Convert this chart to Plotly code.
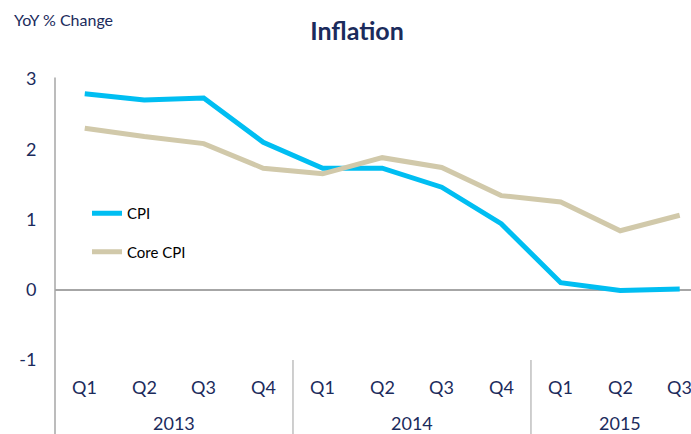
import plotly.graph_objects as go

quarters = ["Q1", "Q2", "Q3", "Q4", "Q1", "Q2", "Q3", "Q4", "Q1", "Q2", "Q3"]
years = ["2013", "2014", "2015"]
year_centers = [1.5, 5.5, 9.0]
y_ticks = [-1, 0, 1, 2, 3]
y_tick_labels = ["-1", "0", "1", "2", "3"]
cpi = [2.79, 2.70, 2.73, 2.10, 1.73, 1.73, 1.46, 0.94, 0.10, -0.01, 0.01]
core_cpi = [2.30, 2.18, 2.08, 1.73, 1.65, 1.88, 1.74, 1.34, 1.25, 0.84, 1.06]

NAVY = "#1B2B5C"
FONT = "Lato, 'Open Sans', sans-serif"
x = list(range(len(quarters)))

W, H = 691, 434
L, T, B, R = 55, 79, 74, 0
plot_h = H - T - B
plot_w = W - L - R

fig = go.Figure()
fig.add_trace(go.Scatter(x=x, y=cpi, mode="lines", name="CPI", legendgroup="a",
                         line=dict(color="#00BEF2", width=5)))
fig.add_trace(go.Scatter(x=x, y=core_cpi, mode="lines", name="Core CPI", legendgroup="b",
                         line=dict(color="#D1C9AA", width=5)))

bottom_ext = -B / plot_h

shapes = [
    dict(type="line", xref="paper", yref="paper", x0=0, x1=0, y0=bottom_ext, y1=1.005,
         line=dict(color="#A6A6A6", width=1.5)),
]
for sep in [3.5, 7.5]:
    shapes.append(dict(type="line", xref="x", yref="paper", x0=sep, x1=sep,
                       y0=bottom_ext, y1=0, line=dict(color="#BFBFBF", width=1.5)))

annotations = [
    dict(text="YoY % Change", xref="paper", yref="paper", x=(12 - 55) / plot_w,
         y=(360 - 20) / plot_h, xanchor="left", yanchor="middle", showarrow=False,
         font=dict(family=FONT, size=16, color=NAVY)),
]
for yr, c in zip(years, year_centers):
    annotations.append(dict(text=yr, xref="x", yref="paper", x=c, y=-(423 - 360) / plot_h,
                            xanchor="center", yanchor="middle", showarrow=False,
                            font=dict(family=FONT, size=18, color=NAVY)))

for xi, q in zip(x, quarters):
    annotations.append(dict(text=q, xref="x", yref="paper", x=xi, y=-(387 - 360) / plot_h,
                            xanchor="center", yanchor="middle", showarrow=False,
                            font=dict(family=FONT, size=18, color=NAVY)))

fig.update_layout(
    width=W, height=H, autosize=False,
    margin=dict(l=L, r=R, t=T, b=B, pad=0),
    paper_bgcolor="white", plot_bgcolor="white",
    title=dict(text="<b>Inflation</b>", xref="container", x=357 / W, xanchor="center",
               yref="container", y=1 - 31 / H, yanchor="middle",
               font=dict(family=FONT, size=25, color=NAVY)),
    xaxis=dict(range=[-0.5, 10.19], tickvals=x, showticklabels=False, showgrid=False,
               zeroline=False, showline=False, ticks=""),
    yaxis=dict(range=[-1, 3], tickvals=y_ticks, ticktext=y_tick_labels, showgrid=False,
               zeroline=True, zerolinecolor="#A6A6A6", zerolinewidth=1.5,
               showline=False, ticks="outside", ticklen=14, tickcolor="rgba(0,0,0,0)",
               tickfont=dict(family=FONT, size=18, color=NAVY)),
    showlegend=True,
    legend=dict(x=(87 - 55) / plot_w, y=(360 - 197) / plot_h, xanchor="left", yanchor="top",
                bgcolor="rgba(0,0,0,0)", tracegroupgap=16, traceorder="grouped",
                font=dict(family=FONT, size=15, color="#000000")),
    shapes=shapes, annotations=annotations,
)

fig.write_html(
    "out.html",
    config={"displayModeBar": False},
    post_script="document.body.style.margin='0';document.body.style.overflow='hidden';",
)
